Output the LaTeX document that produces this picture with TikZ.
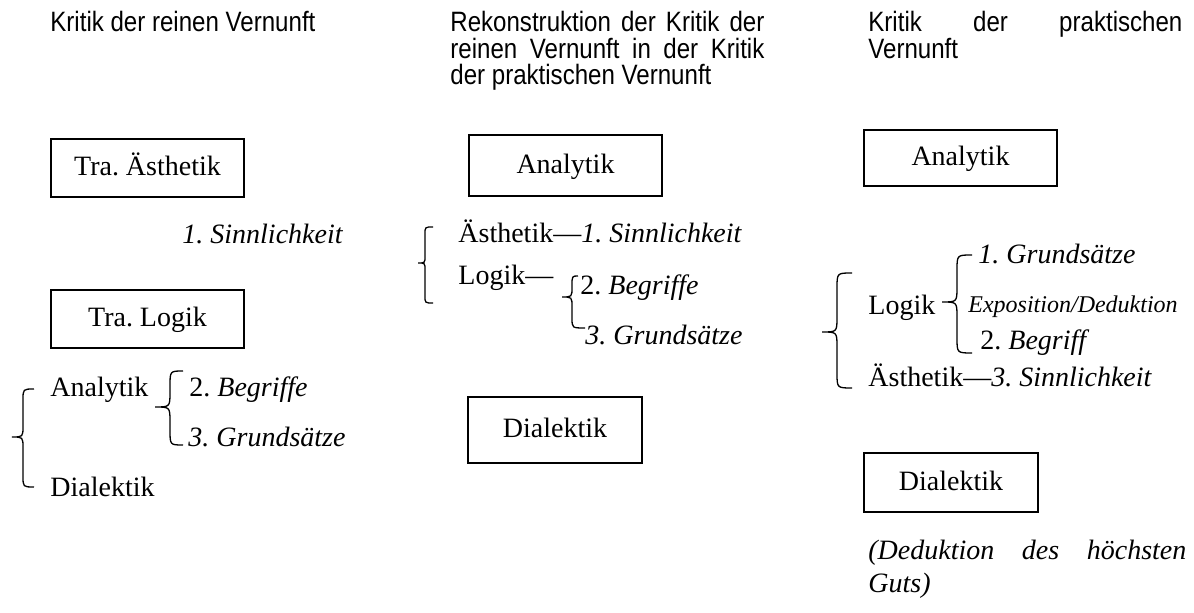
\documentclass[tikz,border=0pt]{standalone}
\usepackage{fontspec}
\setmainfont{Liberation Serif}
\newfontfamily\headfont[FakeStretch=0.86]{Liberation Sans}
\frenchspacing
% curly brace: xr-top, xr-bottom, x-middle, x-tip, y-top, y-tip, y-bottom
\newcommand{\brc}[7]{%
  \draw[brace] (#1,#5) .. controls (#3,#5) .. (#3,{#5+(#3-#4)})
    -- (#3,{#6-(#3-#4)}) .. controls (#3,#6) .. (#4,#6)
    .. controls (#3,#6) .. (#3,{#6+(#3-#4)})
    -- (#3,{#7-(#3-#4)}) .. controls (#3,#7) .. (#2,#7);}
\begin{document}
\frenchspacing
\begin{tikzpicture}[x=0.5pt,y=-0.5pt,
  txt/.style={anchor=base west,inner sep=0pt,font=\fontsize{14}{16}\selectfont\frenchspacing},
  itxt/.style={anchor=base west,inner sep=0pt,font=\fontsize{14}{16}\selectfont\itshape\frenchspacing},
  head/.style={anchor=base west,inner sep=0pt,font=\headfont\fontsize{14}{14}\selectfont\frenchspacing},
  box/.style={draw,line width=0.8pt,inner sep=0pt,font=\fontsize{14}{16}\selectfont\frenchspacing,text height=9pt,text depth=1pt},
  brace/.style={line width=0.65pt}]
\useasboundingbox (0,0) rectangle (1194,613);
% column 1
\node[head] (h1) at (50,32) {Kritik der reinen Vernunft};
\node[box,minimum width=96.5pt,minimum height=29pt] (b1) at (147.5,168) {Tra. Ästhetik};
\node[itxt] (s1) at (182,244) {1. Sinnlichkeit};
\node[box,minimum width=96.5pt,minimum height=29pt] (b2) at (147.5,319) {Tra. Logik};
\node[txt] (a1) at (50,397) {Analytik};
\node[txt] (g1) at (189,397) {2. \textit{Begriffe}};
\node[itxt] (g2) at (188,447) {3. Grundsätze};
\node[txt] (d1) at (50,497) {Dialektik};
\brc{34}{34}{23}{12}{389}{437}{487}
\brc{183}{183}{170}{155}{371}{407}{445}
% column 2
\node[head] (h2a) at (450,32) {\makebox[157pt][s]{Rekonstruktion der Kritik der}};
\node[head] (h2b) at (450,59) {\makebox[157pt][s]{reinen Vernunft in der Kritik}};
\node[head] (h2c) at (450,85) {der praktischen Vernunft};
\node[box,minimum width=96.5pt,minimum height=30.5pt] (b3) at (565.5,165.5) {Analytik};
\node[txt] (ae2) at (458,243) {Ästhetik—\textit{1. Sinnlichkeit}};
\node[txt] (l2) at (458,285) {Logik—};
\node[txt] (be2) at (580,295) {2. \textit{Begriffe}};
\node[itxt] (gr2) at (585,345) {3. Grundsätze};
\node[box,minimum width=87pt,minimum height=33pt] (b4) at (555,430) {Dialektik};
\brc{433}{433}{425}{418}{227}{263}{303}
\brc{578}{585}{572}{562}{276}{297}{328}
% column 3
\node[head] (h3a) at (868,32) {\makebox[157pt][s]{Kritik der praktischen}};
\node[head] (h3b) at (868,59) {Vernunft};
\node[box,minimum width=96.5pt,minimum height=28pt] (b5) at (960.5,158) {Analytik};
\node[itxt] (gr3) at (978,264) {1. Grundsätze};
\node[txt] (l3) at (868,315) {Logik};
\node[itxt,font=\fontsize{12}{14}\selectfont\itshape] (ex3) at (968,313) {Exposition/Deduktion};
\node[txt] (be3) at (980,350) {2. \textit{Begriff}};
\node[txt] (ae3) at (868,387) {Ästhetik—\textit{3. Sinnlichkeit}};
\node[box,minimum width=87pt,minimum height=29.5pt] (b6) at (951,482.5) {Dialektik};
\node[itxt] (dd1) at (868,560) {\makebox[159pt][s]{(Deduktion des höchsten}};
\node[itxt] (dd2) at (868,593) {Guts)};
\brc{852}{852}{837}{822}{273}{332}{388}
\brc{972}{972}{957}{942}{255}{302}{353}
\end{tikzpicture}
\end{document}
